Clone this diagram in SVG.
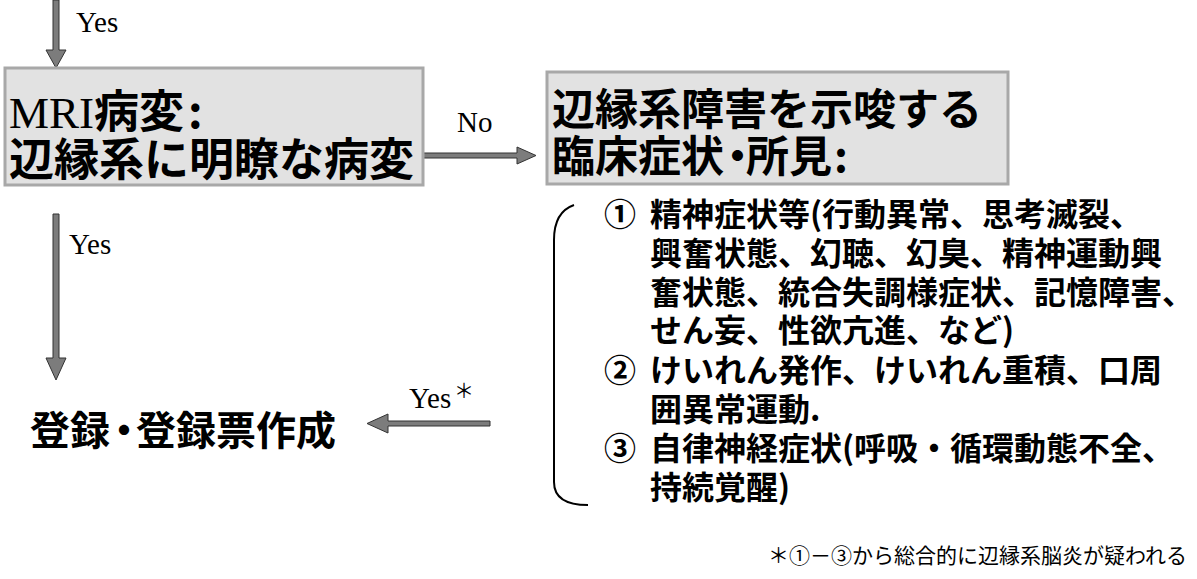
<svg xmlns="http://www.w3.org/2000/svg" width="1197" height="579" viewBox="0 0 1197 579">
<style>
.box{fill:#e2e2e2;stroke:#a8a8a8;stroke-width:3}
.arr{fill:#7c7c7c;stroke:#333;stroke-width:1}
.lbl{font-family:"Liberation Serif","Noto Sans CJK JP",serif;font-size:29px;fill:#000}
.jp{font-family:"Noto Sans CJK JP",sans-serif;font-weight:bold;fill:#000}
.list{font-family:"Noto Sans CJK JP",sans-serif;font-weight:bold;font-size:32px;fill:#000}
.note{font-family:"Noto Sans CJK JP",sans-serif;font-size:21px;fill:#000}
</style>
<rect width="1197" height="579" fill="#fff"/>
<g id="connectors">
  <polygon class="arr" points="53,0 59,0 59,50 66,50 56,68 46,50 53,50"/>
  <polygon class="arr" points="423,153 517,153 517,147 536,155.5 517,164 517,158 423,158"/>
  <polygon class="arr" points="53,214 59,214 59,358 66,358 56,380 46,358 53,358"/>
  <polygon class="arr" points="490,421 388,421 388,414 367,423.5 388,433 388,426 490,426"/>
  <text class="lbl" x="76" y="32">Yes</text>
  <text class="lbl" x="457" y="132">No</text>
  <text class="lbl" x="69" y="254">Yes</text>
  <text class="lbl" x="409" y="408">Yes</text>
  <text x="454" y="398" font-family="Noto Sans CJK JP,sans-serif" font-size="20" fill="#000">＊</text>
</g>
<g id="node-mri">
  <rect class="box" x="5" y="68" width="418" height="117"/>
  <text x="9" y="128" font-size="45"><tspan font-family="Liberation Serif,serif" fill="#000">MRI</tspan><tspan class="jp">病変</tspan><tspan class="jp" dx="4">:</tspan></text>
  <text class="jp" x="9" y="176" font-size="45">辺縁系に明瞭な病変</text>
</g>
<g id="node-clinical">
  <rect class="box" x="547" y="72" width="461" height="112"/>
  <text class="jp" x="552" y="125" font-size="43">辺縁系障害を示唆する</text>
  <text class="jp" y="172" font-size="43"><tspan x="552">臨床症状</tspan><tspan x="716">・</tspan><tspan x="746">所見</tspan><tspan x="834">:</tspan></text>
</g>
<g id="node-register">
  <text class="jp" y="445" font-size="40"><tspan x="30">登録</tspan><tspan x="104">・</tspan><tspan x="136">登録票作成</tspan></text>
</g>
<g id="node-list">
  <path d="M574,205 Q554,212 554,240 L554,482 Q554,505 588,505" fill="none" stroke="#000" stroke-width="2"/>
  <text class="list" x="604" y="226">①</text>
  <text class="list" x="650" y="226">精神症状等(行動異常、思考滅裂、</text>
  <text class="list" x="650" y="265">興奮状態、幻聴、幻臭、精神運動興</text>
  <text class="list" x="650" y="304">奮状態、統合失調様症状、記憶障害、</text>
  <text class="list" x="650" y="342">せん妄、性欲亢進、など)</text>
  <text class="list" x="604" y="382">②</text>
  <text class="list" x="650" y="382">けいれん発作、けいれん重積、口周</text>
  <text class="list" x="650" y="421">囲異常運動.</text>
  <text class="list" x="604" y="460">③</text>
  <text class="list" x="650" y="460">自律神経症状(呼吸・循環動態不全、</text>
  <text class="list" x="650" y="499">持続覚醒)</text>
</g>
<g id="note">
  <text class="note" x="768" y="563">＊①－③から総合的に辺縁系脳炎が疑われる</text>
</g>
</svg>
